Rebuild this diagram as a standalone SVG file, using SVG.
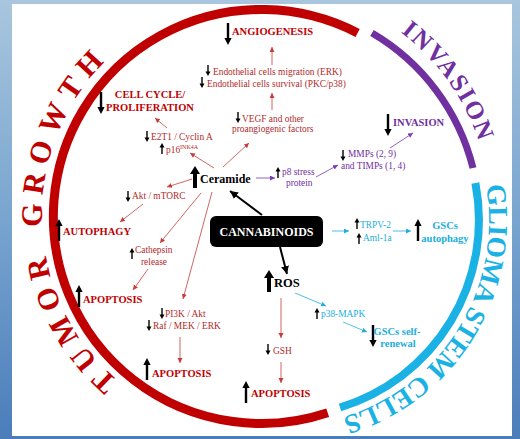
<svg xmlns="http://www.w3.org/2000/svg" width="520" height="439" viewBox="0 0 520 439">
<defs>
<style>
.serif{font-family:"Liberation Serif","Times New Roman",serif}
.sm{font-family:"Liberation Serif","Times New Roman",serif;font-size:9.4px}
.hd{font-family:"Liberation Serif","Times New Roman",serif;font-size:10.5px;font-weight:bold}
.r{fill:#b22a2a}
.rh{fill:#c00000}
.pu{fill:#7030a0}
.cy{fill:#22aedc}
.cr{stroke:#c63c3c;stroke-width:0.8;fill:none;marker-end:url(#mr)}
.cp{stroke:#7a3cb0;stroke-width:0.8;fill:none;marker-end:url(#mp)}
.cc{stroke:#22aedc;stroke-width:0.8;fill:none;marker-end:url(#mc)}
.cb{stroke:#000;stroke-width:2;fill:none;marker-end:url(#mb)}
.outer{font-family:"Liberation Serif","Times New Roman",serif;font-weight:bold}
</style>
<linearGradient id="bg" x1="0" y1="0" x2="0" y2="1">
<stop offset="0" stop-color="#a9c6de"/>
<stop offset="0.5" stop-color="#78a4cf"/>
<stop offset="1" stop-color="#4b7dba"/>
</linearGradient>
<marker id="mr" markerUnits="userSpaceOnUse" markerWidth="6" markerHeight="6" refX="5" refY="2.5" orient="auto"><path d="M0,0 L5,2.5 L0,5 Z" fill="#c63c3c"/></marker>
<marker id="mp" markerUnits="userSpaceOnUse" markerWidth="6" markerHeight="6" refX="5" refY="2.5" orient="auto"><path d="M0,0 L5,2.5 L0,5 Z" fill="#7a3cb0"/></marker>
<marker id="mc" markerUnits="userSpaceOnUse" markerWidth="6" markerHeight="6" refX="5" refY="2.5" orient="auto"><path d="M0,0 L5,2.5 L0,5 Z" fill="#22aedc"/></marker>
<marker id="mb" markerUnits="userSpaceOnUse" markerWidth="10" markerHeight="10" refX="8" refY="4" orient="auto"><path d="M0,0 L8,4 L0,8 Z" fill="#000"/></marker>
<path id="bigUp" d="M0,0 L3.6,7 L1.2,7 L1.2,22 L-1.2,22 L-1.2,7 L-3.6,7 Z"/>
<path id="bigDown" d="M0,22 L3.6,15 L1.2,15 L1.2,0 L-1.2,0 L-1.2,15 L-3.6,15 Z"/>
<path id="hugeUp" d="M0,0 L5,8 L2,8 L2,22 L-2,22 L-2,8 L-5,8 Z"/>
<path id="smUp" d="M0,0 L2.5,4.5 L0.7,4.5 L0.7,11 L-0.7,11 L-0.7,4.5 L-2.5,4.5 Z"/>
<path id="smDown" d="M0,11 L2.5,6.5 L0.7,6.5 L0.7,0 L-0.7,0 L-0.7,6.5 L-2.5,6.5 Z"/>
<path id="tgPath" d="M222.1,429.7 A218,218 0 0 1 222.1,0.3" fill="none"/>
<path id="invPath" d="M299.9,-11.5 A228,228 0 0 1 486.5,254.9" fill="none"/>
<path id="gscPath" d="M461.4,117 A206,206 0 0 1 247.2,422.9" fill="none"/>
</defs>

<rect x="0" y="0" width="520" height="439" fill="url(#bg)"/>
<rect x="12" y="4" width="500" height="432" fill="#ffffff"/>

<g id="rings" fill="none">
<path d="M327.7,412.7 A208,207 0 1 1 357.6,33" stroke="#c00000" stroke-width="9"/>
<path d="M372,33 A217,217 0 0 1 473,168" stroke="#7030a0" stroke-width="7"/>
<path d="M475.4,182.9 A196,196 0 0 1 340,407.5" stroke="#1ab2e4" stroke-width="8"/>
</g>

<g id="outer-labels">
<text class="outer" font-size="30" letter-spacing="8" word-spacing="6" fill="#c00000"><textPath href="#tgPath" startOffset="299" text-anchor="middle">TUMOR GROWTH</textPath></text>
<text class="outer" font-size="25" letter-spacing="2" fill="#7030a0"><textPath href="#invPath" startOffset="180" text-anchor="middle">INVASION</textPath></text>
<text class="outer" font-size="27.5" fill="#1ab2e4"><textPath href="#gscPath" startOffset="222" text-anchor="middle">GLIOMA STEM CELLS</textPath></text>
</g>

<g id="connectors">
<line class="cr" x1="272" y1="65" x2="272" y2="47"/>
<line class="cr" x1="272" y1="110" x2="272" y2="93"/>
<line class="cr" x1="223" y1="167" x2="249" y2="143"/>
<line class="cr" x1="214" y1="168" x2="190" y2="153"/>
<line class="cr" x1="167" y1="128" x2="155" y2="118"/>
<line class="cr" x1="192" y1="179" x2="167" y2="187"/>
<line class="cr" x1="143" y1="204" x2="120" y2="222"/>
<line class="cr" x1="201" y1="193" x2="160" y2="243"/>
<line class="cr" x1="148" y1="269" x2="133" y2="290"/>
<line class="cr" x1="212" y1="192" x2="183" y2="299"/>
<line class="cr" x1="180" y1="337" x2="180" y2="363"/>
<line class="cr" x1="281" y1="298" x2="281" y2="338"/>
<line class="cr" x1="281" y1="362" x2="281" y2="383"/>
<line class="cp" x1="256" y1="178" x2="275" y2="178"/>
<line class="cp" x1="316" y1="177" x2="338" y2="165"/>
<line class="cp" x1="390" y1="148" x2="413" y2="133"/>
<line class="cc" x1="332" y1="231" x2="349" y2="231"/>
<line class="cc" x1="393" y1="231" x2="411" y2="231"/>
<line class="cc" x1="295" y1="293" x2="326" y2="306"/>
<line class="cc" x1="343" y1="322" x2="367" y2="332"/>
<line class="cb" x1="262" y1="215" x2="230" y2="191"/>
<line class="cb" x1="280" y1="247" x2="287" y2="274"/>
</g>

<g id="cannabinoids">
<rect x="210" y="216" width="113" height="31" rx="6" fill="#000"/>
<text class="serif" x="266.5" y="236" font-size="12" font-weight="bold" fill="#fff" text-anchor="middle">CANNABINOIDS</text>
</g>

<g id="ceramide">
<use href="#hugeUp" x="195" y="166"/>
<text class="serif" x="200" y="183" font-size="12" font-weight="bold" fill="#000">Ceramide</text>
</g>

<g id="ros">
<use href="#hugeUp" x="269" y="270"/>
<text class="serif" x="274" y="287" font-size="12.5" font-weight="bold" fill="#000">ROS</text>
</g>

<g id="angiogenesis">
<use href="#bigDown" x="228" y="23"/>
<text class="hd rh" x="232" y="35">ANGIOGENESIS</text>
</g>

<g id="endothelial">
<use href="#smDown" x="208" y="65"/>
<text class="sm r" x="213" y="75" font-size="9.8">Endothelial cells migration (ERK)</text>
<use href="#smDown" x="202" y="77"/>
<text class="sm r" x="207" y="86.5" font-size="9.8">Endothelial cells survival (PKC/p38)</text>
</g>

<g id="vegf">
<use href="#smDown" x="238" y="112"/>
<text class="sm r" x="242" y="122">VEGF and other</text>
<text class="sm r" x="232" y="132">proangiogenic factors</text>
</g>

<g id="cell-cycle">
<use href="#bigDown" x="101" y="92"/>
<text class="hd rh" x="150" y="98" text-anchor="middle">CELL CYCLE/</text>
<text class="hd rh" x="150" y="111" text-anchor="middle">PROLIFERATION</text>
</g>

<g id="e2t1">
<use href="#smDown" x="147" y="131"/>
<text class="sm r" x="151" y="140">E2T1 / Cyclin A</text>
<use href="#smUp" x="162" y="143"/>
<text class="sm r" x="166" y="152.5">p16<tspan font-size="6" dy="-4">INK4A</tspan></text>
</g>

<g id="p8">
<use href="#smUp" x="278" y="167"/>
<text class="sm pu" x="282" y="175">p8 stress</text>
<text class="sm pu" x="286" y="186">protein</text>
</g>

<g id="mmps">
<use href="#smDown" x="343" y="150"/>
<text class="sm pu" x="348" y="157">MMPs (2, 9)</text>
<text class="sm pu" x="341" y="168.5">and TIMPs (1, 4)</text>
</g>

<g id="invasion">
<use href="#bigDown" x="388" y="114"/>
<text class="hd pu" x="393" y="126" font-size="10">INVASION</text>
</g>

<g id="akt">
<use href="#smDown" x="128" y="191"/>
<text class="sm r" x="132" y="199">Akt / mTORC</text>
</g>

<g id="autophagy">
<use href="#bigUp" x="59" y="219"/>
<text class="hd rh" x="63" y="235">AUTOPHAGY</text>
</g>

<g id="cathepsin">
<use href="#smUp" x="132" y="248"/>
<text class="sm r" x="135" y="253">Cathepsin</text>
<text class="sm r" x="141" y="265">release</text>
</g>

<g id="apoptosis-1">
<use href="#bigUp" x="79" y="285"/>
<text class="hd rh" x="83" y="303">APOPTOSIS</text>
</g>

<g id="pi3k">
<use href="#smDown" x="162" y="308"/>
<text class="sm r" x="165" y="317">PI3K / Akt</text>
<use href="#smDown" x="149" y="320"/>
<text class="sm r" x="153" y="328.5">Raf / MEK / ERK</text>
</g>

<g id="apoptosis-2">
<use href="#bigUp" x="147" y="358"/>
<text class="hd rh" x="152" y="377">APOPTOSIS</text>
</g>

<g id="gsh">
<use href="#smDown" x="268" y="344"/>
<text class="sm r" x="273" y="354">GSH</text>
</g>

<g id="apoptosis-3">
<use href="#bigUp" x="246" y="381"/>
<text class="hd rh" x="251" y="397">APOPTOSIS</text>
</g>

<g id="trpv">
<use href="#smUp" x="357" y="218"/>
<text class="sm cy" x="360" y="228">TRPV-2</text>
<use href="#smUp" x="359" y="233"/>
<text class="sm cy" x="363" y="241">Aml-1a</text>
</g>

<g id="gsc-autophagy">
<use href="#bigUp" x="418" y="219"/>
<text class="hd cy" x="445" y="229" text-anchor="middle">GSCs</text>
<text class="hd cy" x="445" y="241.5" text-anchor="middle">autophagy</text>
</g>

<g id="p38">
<use href="#smUp" x="317" y="308"/>
<text class="sm cy" x="321" y="317">p38-MAPK</text>
</g>

<g id="gsc-renewal">
<use href="#bigDown" x="373" y="325"/>
<text class="hd cy" x="397" y="334.5" font-size="10" text-anchor="middle">GSCs self-</text>
<text class="hd cy" x="398" y="347" font-size="10" text-anchor="middle">renewal</text>
</g>
</svg>
